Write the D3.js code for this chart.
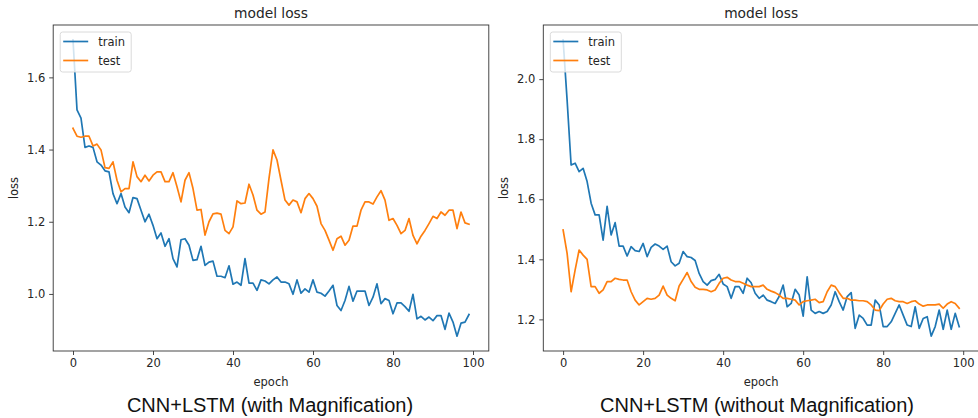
<!DOCTYPE html>
<html>
<head>
<meta charset="utf-8">
<script src="https://cdn.jsdelivr.net/npm/d3@7"></script>
<style>
  html, body { margin: 0; padding: 0; background: #fff; }
  svg { display: block; }
  .tick text { font-family: "DejaVu Sans", sans-serif; font-size: 11.5px; fill: #262626; }
</style>
</head>
<body>
<svg id="chart" width="978" height="418"></svg>
<script>
// ---------- data ----------
const epochs = d3.range(100);
const xTicks = [0, 20, 40, 60, 80, 100];
const leftYTicks = [1.0, 1.2, 1.4, 1.6];
const rightYTicks = [1.2, 1.4, 1.6, 1.8, 2.0];
const seriesNames = ["train", "test"];
const panelTitles = ["model loss", "model loss"];
const captions = ["CNN+LSTM (with Magnification)", "CNN+LSTM (without Magnification)"];

const leftTrain = [1.704,1.510,1.487,1.406,1.410,1.406,1.366,1.357,1.341,1.338,
  1.278,1.250,1.278,1.241,1.225,1.267,1.264,1.232,1.200,1.221,
  1.190,1.153,1.169,1.132,1.153,1.098,1.075,1.150,1.153,1.135,
  1.093,1.095,1.132,1.079,1.088,1.091,1.049,1.049,1.045,1.078,
  1.027,1.033,1.024,1.098,1.030,1.030,1.010,1.039,1.036,1.028,
  1.039,1.047,1.033,1.033,1.028,0.999,1.039,1.002,1.014,1.005,
  1.039,1.005,1.002,0.994,1.008,1.024,0.968,0.954,0.982,1.021,
  0.980,1.008,1.008,1.008,0.968,0.991,1.028,0.973,0.987,0.982,
  0.945,0.975,0.975,0.965,0.952,0.999,0.931,0.938,0.928,0.936,
  0.926,0.940,0.940,0.902,0.947,0.922,0.883,0.919,0.922,0.943];
const leftTest = [1.459,1.437,1.434,1.437,1.437,1.410,1.415,1.399,1.350,1.348,
  1.366,1.315,1.283,1.292,1.292,1.366,1.325,1.311,1.329,1.313,
  1.329,1.338,1.338,1.311,1.311,1.336,1.297,1.255,1.315,1.336,
  1.292,1.232,1.234,1.163,1.200,1.222,1.224,1.221,1.176,1.167,
  1.186,1.258,1.250,1.252,1.304,1.274,1.232,1.221,1.227,1.320,
  1.399,1.371,1.315,1.260,1.246,1.260,1.255,1.225,1.264,1.278,
  1.264,1.243,1.195,1.176,1.149,1.121,1.153,1.160,1.135,1.149,
  1.188,1.188,1.232,1.255,1.255,1.249,1.269,1.286,1.260,1.204,
  1.209,1.190,1.167,1.176,1.209,1.162,1.139,1.160,1.176,1.195,
  1.215,1.209,1.227,1.218,1.232,1.232,1.181,1.227,1.197,1.193];
const rightTrain = [2.131,1.930,1.714,1.720,1.692,1.703,1.659,1.587,1.548,1.548,
  1.464,1.576,1.481,1.522,1.444,1.444,1.411,1.442,1.429,1.426,
  1.453,1.409,1.440,1.451,1.444,1.433,1.444,1.392,1.378,1.387,
  1.426,1.409,1.406,1.396,1.353,1.326,1.314,1.329,1.333,1.350,
  1.318,1.309,1.270,1.309,1.309,1.287,1.337,1.322,1.287,1.270,
  1.281,1.264,1.259,1.253,1.276,1.314,1.242,1.253,1.300,1.281,
  1.211,1.342,1.231,1.220,1.226,1.220,1.226,1.248,1.292,1.259,
  1.231,1.276,1.289,1.170,1.214,1.203,1.181,1.181,1.264,1.248,
  1.176,1.176,1.192,1.220,1.248,1.214,1.181,1.176,1.242,1.170,
  1.203,1.209,1.144,1.176,1.231,1.167,1.231,1.167,1.220,1.176];
const rightTest = [1.498,1.420,1.292,1.364,1.431,1.414,1.400,1.309,1.309,1.287,
  1.298,1.326,1.326,1.337,1.333,1.331,1.331,1.292,1.264,1.248,
  1.259,1.270,1.267,1.270,1.281,1.311,1.281,1.270,1.262,1.311,
  1.333,1.356,1.326,1.307,1.300,1.300,1.298,1.292,1.298,1.320,
  1.337,1.340,1.331,1.326,1.326,1.320,1.314,1.309,1.309,1.309,
  1.314,1.300,1.294,1.289,1.281,1.270,1.270,1.267,1.264,1.248,
  1.259,1.262,1.264,1.267,1.256,1.259,1.292,1.314,1.309,1.289,
  1.270,1.270,1.264,1.264,1.262,1.262,1.259,1.248,1.231,1.229,
  1.251,1.267,1.270,1.262,1.259,1.259,1.253,1.259,1.262,1.251,
  1.244,1.248,1.248,1.248,1.251,1.237,1.251,1.259,1.253,1.237];

// ---------- drawing ----------
const colors = ["#1f77b4", "#ff7f0e"];
const svg = d3.select("#chart");

function drawPanel(p) {
  const g = svg.append("g");
  const xMin = d3.min(epochs), xMax = d3.max(epochs);
  const xPad = (xMax - xMin) * 0.05;
  const allY = p.series.flat();
  const yMin = d3.min(allY), yMax = d3.max(allY);
  const yPad = (yMax - yMin) * 0.05;

  const x = d3.scaleLinear().domain([xMin - xPad, xMax + xPad]).range([p.left, p.right]);
  const y = d3.scaleLinear().domain([yMin - yPad, yMax + yPad]).range([p.bottom, p.top]);

  // clip
  const clipId = "clip" + p.id;
  svg.append("clipPath").attr("id", clipId)
    .append("rect").attr("x", p.left).attr("y", p.top)
    .attr("width", p.right - p.left).attr("height", p.bottom - p.top);

  // lines
  const line = d3.line().x((d, i) => x(epochs[i])).y(d => y(d));
  p.series.forEach((s, k) => {
    g.append("path").datum(s)
      .attr("clip-path", `url(#${clipId})`)
      .attr("fill", "none").attr("stroke", colors[k])
      .attr("stroke-width", 1.7).attr("stroke-linejoin", "round").attr("stroke-linecap", "square")
      .attr("d", line);
  });

  // axes
  const xAxis = g.append("g").attr("transform", `translate(0,${p.bottom})`)
    .call(d3.axisBottom(x).tickValues(xTicks).tickFormat(d3.format("d")).tickSize(4).tickPadding(4));
  const yAxis = g.append("g").attr("transform", `translate(${p.left},0)`)
    .call(d3.axisLeft(y).tickValues(p.yTicks).tickFormat(d3.format(".1f")).tickSize(4).tickPadding(4));
  [xAxis, yAxis].forEach(a => {
    a.select(".domain").remove();
    a.selectAll(".tick line").attr("stroke", "#333").attr("stroke-width", 0.9);
  });

  // frame (spines)
  g.append("rect").attr("x", p.left).attr("y", p.top)
    .attr("width", p.right - p.left).attr("height", p.bottom - p.top)
    .attr("fill", "none").attr("stroke", "#333").attr("stroke-width", 0.9);

  // title
  g.append("text").attr("x", (p.left + p.right) / 2).attr("y", 13)
    .attr("text-anchor", "middle").attr("dominant-baseline", "central")
    .style("font-family", "DejaVu Sans, sans-serif").style("font-size", "13.8px").style("fill", "#262626")
    .text(p.title);

  // axis labels
  g.append("text").attr("x", (p.left + p.right) / 2).attr("y", 382)
    .attr("text-anchor", "middle").attr("dominant-baseline", "central")
    .style("font-family", "DejaVu Sans, sans-serif").style("font-size", "11.5px").style("fill", "#262626")
    .text("epoch");
  g.append("text")
    .attr("transform", `translate(${p.left - 39},${(p.top + p.bottom) / 2}) rotate(-90)`)
    .attr("text-anchor", "middle").attr("dominant-baseline", "central")
    .style("font-family", "DejaVu Sans, sans-serif").style("font-size", "11.5px").style("fill", "#262626")
    .text("loss");

  // legend
  const lx = p.left + 7, ly = 32;
  const lg = g.append("g");
  lg.append("rect").attr("x", lx).attr("y", ly).attr("width", 71).attr("height", 40)
    .attr("rx", 2.5).attr("fill", "#fff").attr("fill-opacity", 0.8)
    .attr("stroke", "#d6d6d6").attr("stroke-width", 0.9);
  seriesNames.forEach((n, k) => {
    const yy = ly + 9.5 + k * 19;
    lg.append("line").attr("x1", lx + 3).attr("x2", lx + 28).attr("y1", yy).attr("y2", yy)
      .attr("stroke", colors[k]).attr("stroke-width", 1.7);
    lg.append("text").attr("x", lx + 38).attr("y", yy).attr("dominant-baseline", "central")
      .style("font-family", "DejaVu Sans, sans-serif").style("font-size", "11.5px").style("fill", "#262626")
      .text(n);
  });

  // caption
  g.append("text").attr("x", p.captionX).attr("y", 405)
    .attr("text-anchor", "middle").attr("dominant-baseline", "central")
    .style("font-family", "Liberation Sans, Arial, sans-serif").style("font-size", "20px").style("fill", "#111")
    .text(p.caption);
}

drawPanel({ id: 0, left: 53.2, right: 488.8, top: 25, bottom: 351,
  series: [leftTrain, leftTest], yTicks: leftYTicks, title: panelTitles[0],
  caption: captions[0], captionX: 270 });
drawPanel({ id: 1, left: 543.3, right: 979, top: 25, bottom: 351,
  series: [rightTrain, rightTest], yTicks: rightYTicks, title: panelTitles[1],
  caption: captions[1], captionX: 757 });
</script>
</body>
</html>
